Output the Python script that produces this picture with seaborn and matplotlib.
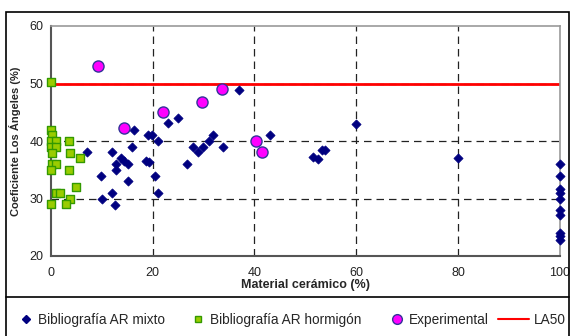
import matplotlib
matplotlib.use("Agg")
import matplotlib.pyplot as plt
import seaborn as sns
import pandas as pd
from matplotlib.lines import Line2D
from matplotlib.patches import Rectangle

# ---- data ----
mixto_x = [7.2, 9.9, 10.1, 12.0, 12.1, 12.7, 12.9, 12.9, 13.8, 14.3, 15.1, 15.1, 16.0, 16.4,
           18.8, 19.3, 19.1, 19.9, 20.5, 21.0, 21.1, 23.0, 24.9, 26.7, 28.0, 28.9, 30.0, 31.0,
           31.9, 33.9, 37.0, 43.1, 51.6, 52.4, 53.2, 53.9, 59.9, 80.0,
           100, 100, 100, 100, 100, 100, 100, 100, 100, 100]
mixto_y = [38.1, 34.0, 30.0, 38.1, 31.0, 28.9, 36.0, 35.0, 37.0, 36.6, 36.0, 33.0, 39.0, 41.9,
           36.5, 36.3, 41.1, 41.1, 34.0, 40.0, 31.0, 43.1, 44.0, 36.0, 39.0, 38.1, 39.0, 40.0,
           41.1, 39.0, 48.9, 41.1, 37.2, 36.8, 38.4, 38.4, 43.0, 37.0,
           36.0, 34.0, 31.6, 31.0, 30.0, 28.0, 27.2, 24.0, 23.5, 22.8]

horm_x = [0, 0, 0.3, 0, 1.0, 3.5, 0, 1.0, 0.3, 3.8, 5.7, 0.3, 1.0, 0, 3.5, 5.0, 1.0, 1.8, 3.8, 0, 3.0]
horm_y = [50.3, 42.0, 41.0, 40.0, 40.0, 40.0, 39.0, 39.0, 38.0, 38.0, 37.0, 36.0, 36.0, 35.0,
          35.0, 32.0, 31.0, 31.0, 30.0, 29.0, 29.0]

exp_x = [9.2, 14.3, 22.0, 29.8, 33.6, 40.4, 41.5]
exp_y = [53.0, 42.2, 45.0, 46.7, 49.0, 40.0, 38.1]

la50_x = [0, 100]
la50_y = [50, 50]

x_ticks = [0, 20, 40, 60, 80, 100]
y_ticks = [20, 30, 40, 50, 60]

labels = ["Bibliografía AR mixto", "Bibliografía AR hormigón", "Experimental", "LA50"]

# ---- figure ----
sns.set_style("white")
plt.rcParams['font.family'] = ['Liberation Sans', 'DejaVu Sans']

fig = plt.figure(figsize=(5.71, 3.36), dpi=100)
ax = fig.add_axes([50.7 / 571, 1 - 256 / 336, (560 - 50.7) / 571, (256 - 26) / 336])

# grid
grid_kw = dict(color="#222222", lw=0.9, ls=(0, (6, 4)), zorder=0.5)
for gx in [20, 40, 60, 80]:
    ax.axvline(gx, **grid_kw)
for gy in [30, 40, 50]:
    ax.axhline(gy, **grid_kw)

df_m = pd.DataFrame({"x": mixto_x, "y": mixto_y})
df_h = pd.DataFrame({"x": horm_x, "y": horm_y})
df_e = pd.DataFrame({"x": exp_x, "y": exp_y})
df_l = pd.DataFrame({"x": la50_x, "y": la50_y})

sns.lineplot(data=df_l, x="x", y="y", ax=ax, color="#ff0000", lw=2, zorder=2)
sns.scatterplot(data=df_m, x="x", y="y", ax=ax, marker="D", s=22, color="#000080",
                edgecolor="#000080", linewidth=0.5, zorder=3)
sns.scatterplot(data=df_h, x="x", y="y", ax=ax, marker="s", s=34, color="#99cc00",
                edgecolor="#339900", linewidth=1.0, zorder=3)
sns.scatterplot(data=df_e, x="x", y="y", ax=ax, marker="o", s=64, color="#ff00ff",
                edgecolor="#333399", linewidth=1.0, zorder=4)
for coll in ax.collections:
    coll.set_clip_on(False)

ax.set_xlim(0, 100)
ax.set_ylim(20, 60)
ax.set_xticks(x_ticks)
ax.set_yticks(y_ticks)
ax.set_xticklabels([str(v) for v in x_ticks], fontsize=9, color="#222222")
ax.set_yticklabels([str(v) for v in y_ticks], fontsize=9, color="#222222")
ax.tick_params(axis="both", direction="out", length=3, width=0.8, color="#444444", pad=2)
ax.tick_params(axis="x", pad=5)

for side in ["left", "bottom"]:
    ax.spines[side].set_color("#555555")
    ax.spines[side].set_linewidth(1.5)
for side in ["top", "right"]:
    ax.spines[side].set_color("#999999")
    ax.spines[side].set_linewidth(1.2)

ax.set_xlabel("Material cerámico (%)", fontsize=9, fontweight="bold", labelpad=0)
ax.set_ylabel("Coeficiente Los Ángeles (%)", fontsize=8, fontweight="bold", labelpad=6)

# outer frames
fig.patches.append(Rectangle((6 / 571, -0.1), (569 - 6) / 571, 1.1 - 12 / 336,
                             transform=fig.transFigure, fill=False, ec="black", lw=1.2))
fig.lines.append(Line2D([6 / 571, 569 / 571], [1 - 297 / 336, 1 - 297 / 336],
                        transform=fig.transFigure, color="black", lw=1.2))

handles = [
    Line2D([], [], ls="none", marker="D", ms=4, color="#000080"),
    Line2D([], [], ls="none", marker="s", ms=5, mfc="#99cc00", mec="#339900", mew=1),
    Line2D([], [], ls="none", marker="o", ms=7, mfc="#ff00ff", mec="#333399", mew=1),
    Line2D([], [], color="#ff0000", lw=1.5),
]
# one legend per entry, placed at the reference x positions (pixels)
leg_fs = 9.8
em = leg_fs * 100 / 72.0
leg_y = 1 - 320 / 336
entries = [  # (handle, label, marker centre or line start px, handlelength in em)
    (handles[0], labels[0], 26, 1.0),
    (handles[1], labels[1], 198, 1.0),
    (handles[2], labels[2], 397, 1.0),
    (handles[3], labels[3], 498, 2.3),
]
for h, lab, xpx, hl in entries:
    x0 = xpx - hl * em / 2 if hl < 2 else xpx
    lg = fig.legend([h], [lab], loc="center left", bbox_to_anchor=(x0 / 571, leg_y),
                    frameon=False, fontsize=leg_fs, handlelength=hl, handletextpad=0.35,
                    borderpad=0, borderaxespad=0)

fig.savefig("out.png", dpi=100)
